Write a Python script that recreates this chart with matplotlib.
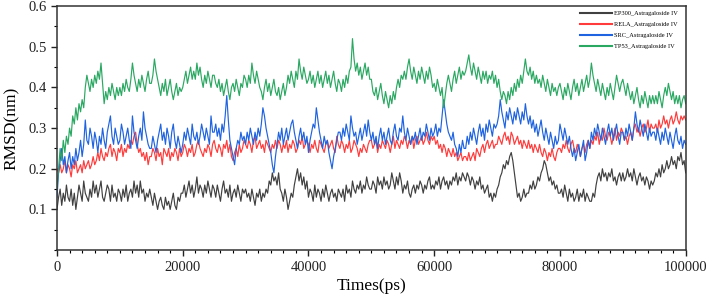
import numpy as np
import matplotlib
matplotlib.use("Agg")
import matplotlib.pyplot as plt
from matplotlib.ticker import MultipleLocator

plt.rcParams['font.family'] = ['Liberation Serif', 'DejaVu Serif']

time_ps = list(range(0, 100001, 250))

ep300 = [
    0.10, 0.13, 0.15, 0.11, 0.14, 0.12, 0.16, 0.13, 0.12, 0.15, 0.11, 0.14, 0.10, 0.13, 0.16, 0.14, 0.12, 0.17, 0.14, 0.13,
    0.12, 0.15, 0.13, 0.17, 0.14, 0.16, 0.13, 0.15, 0.17, 0.13, 0.12, 0.14, 0.16, 0.15, 0.12, 0.16, 0.13, 0.14, 0.12, 0.15,
    0.14, 0.12, 0.15, 0.13, 0.16, 0.12, 0.14, 0.15, 0.13, 0.17, 0.14, 0.16, 0.13, 0.17, 0.14, 0.15, 0.12, 0.14, 0.13, 0.15,
    0.13, 0.11, 0.14, 0.12, 0.10, 0.12, 0.13, 0.11, 0.10, 0.13, 0.11, 0.12, 0.10, 0.12, 0.14, 0.11, 0.10, 0.13, 0.12, 0.14,
    0.14, 0.16, 0.13, 0.15, 0.17, 0.14, 0.16, 0.13, 0.15, 0.18, 0.14, 0.16, 0.15, 0.13, 0.16, 0.14, 0.17, 0.15, 0.13, 0.16,
    0.15, 0.13, 0.16, 0.14, 0.12, 0.15, 0.17, 0.14, 0.15, 0.13, 0.16, 0.12, 0.14, 0.15, 0.13, 0.16, 0.14, 0.12, 0.15, 0.14,
    0.15, 0.13, 0.14, 0.12, 0.15, 0.13, 0.11, 0.14, 0.13, 0.15, 0.12, 0.14, 0.13, 0.15, 0.14, 0.17, 0.16, 0.19, 0.17, 0.18,
    0.16, 0.19, 0.15, 0.14, 0.12, 0.15, 0.13, 0.10, 0.12, 0.14, 0.13, 0.16, 0.18, 0.20, 0.17, 0.19, 0.16, 0.18, 0.15, 0.17,
    0.13, 0.15, 0.14, 0.12, 0.16, 0.13, 0.15, 0.14, 0.12, 0.15, 0.13, 0.16, 0.14, 0.12, 0.14, 0.15, 0.13, 0.14, 0.12, 0.15,
    0.14, 0.13, 0.15, 0.12, 0.16, 0.14, 0.15, 0.13, 0.17, 0.15, 0.14, 0.16, 0.15, 0.17, 0.14, 0.16, 0.15, 0.18, 0.16, 0.15,
    0.15, 0.17, 0.16, 0.14, 0.18, 0.16, 0.17, 0.15, 0.18, 0.16, 0.17, 0.15, 0.16, 0.19, 0.17, 0.15, 0.18, 0.16, 0.19, 0.17,
    0.14, 0.16, 0.15, 0.17, 0.14, 0.13, 0.15, 0.16, 0.14, 0.16, 0.15, 0.17, 0.16, 0.14, 0.16, 0.15, 0.17, 0.18, 0.15, 0.16,
    0.15, 0.17, 0.16, 0.18, 0.15, 0.17, 0.18, 0.16, 0.17, 0.15, 0.17, 0.16, 0.18, 0.17, 0.19, 0.16, 0.18, 0.17, 0.19, 0.18,
    0.17, 0.19, 0.18, 0.16, 0.18, 0.17, 0.15, 0.17, 0.16, 0.18, 0.15, 0.16, 0.14, 0.15, 0.16, 0.13, 0.14, 0.12, 0.14, 0.13,
    0.15, 0.16, 0.18, 0.19, 0.21, 0.20, 0.22, 0.21, 0.23, 0.24, 0.22, 0.19, 0.16, 0.13, 0.14, 0.12, 0.13, 0.15, 0.13, 0.14,
    0.14, 0.16, 0.15, 0.17, 0.15, 0.16, 0.18, 0.17, 0.19, 0.20, 0.22, 0.21, 0.19, 0.17, 0.18, 0.16, 0.17, 0.15, 0.16, 0.14,
    0.14, 0.15, 0.13, 0.16, 0.14, 0.12, 0.15, 0.13, 0.14, 0.12, 0.13, 0.15, 0.12, 0.14, 0.13, 0.15, 0.12, 0.14, 0.13, 0.12,
    0.12, 0.14, 0.13, 0.16, 0.18, 0.19, 0.17, 0.20, 0.18, 0.19, 0.17, 0.19, 0.18, 0.20, 0.17, 0.18, 0.16, 0.18, 0.19, 0.17,
    0.19, 0.17, 0.18, 0.20, 0.18, 0.19, 0.17, 0.20, 0.18, 0.16, 0.18, 0.19, 0.17, 0.18, 0.16, 0.18, 0.17, 0.15, 0.17, 0.16,
    0.17, 0.19, 0.18, 0.20, 0.18, 0.21, 0.19, 0.20, 0.22, 0.20, 0.21, 0.23, 0.21, 0.22, 0.20, 0.23, 0.22, 0.24, 0.21, 0.22,
    0.19,
]

rela = [
    0.20, 0.19, 0.21, 0.19, 0.20, 0.22, 0.19, 0.21, 0.20, 0.18, 0.21, 0.20, 0.22, 0.19, 0.20, 0.21, 0.19, 0.22, 0.20, 0.21,
    0.22, 0.20, 0.21, 0.23, 0.21, 0.22, 0.24, 0.22, 0.25, 0.23, 0.22, 0.24, 0.23, 0.25, 0.26, 0.23, 0.25, 0.24, 0.22, 0.25,
    0.24, 0.26, 0.23, 0.25, 0.24, 0.26, 0.25, 0.27, 0.26, 0.28, 0.29, 0.26, 0.24, 0.25, 0.23, 0.24, 0.22, 0.24, 0.21, 0.23,
    0.23, 0.25, 0.24, 0.22, 0.25, 0.23, 0.24, 0.21, 0.25, 0.24, 0.23, 0.25, 0.22, 0.24, 0.23, 0.25, 0.24, 0.22, 0.25, 0.23,
    0.24, 0.26, 0.25, 0.23, 0.25, 0.24, 0.26, 0.23, 0.24, 0.26, 0.27, 0.25, 0.24, 0.23, 0.25, 0.24, 0.26, 0.25, 0.23, 0.26,
    0.27, 0.25, 0.24, 0.26, 0.25, 0.23, 0.26, 0.25, 0.27, 0.24, 0.26, 0.23, 0.22, 0.24, 0.25, 0.23, 0.26, 0.24, 0.25, 0.27,
    0.26, 0.25, 0.27, 0.26, 0.24, 0.27, 0.28, 0.25, 0.26, 0.27, 0.25, 0.26, 0.24, 0.27, 0.26, 0.25, 0.24, 0.26, 0.25, 0.27,
    0.25, 0.27, 0.26, 0.24, 0.26, 0.25, 0.27, 0.24, 0.26, 0.25, 0.27, 0.26, 0.24, 0.25, 0.27, 0.26, 0.28, 0.25, 0.26, 0.27,
    0.26, 0.24, 0.26, 0.25, 0.27, 0.25, 0.24, 0.27, 0.26, 0.25, 0.24, 0.26, 0.27, 0.25, 0.26, 0.27, 0.25, 0.24, 0.28, 0.26,
    0.25, 0.27, 0.26, 0.24, 0.26, 0.25, 0.27, 0.24, 0.25, 0.27, 0.26, 0.25, 0.23, 0.25, 0.24, 0.26, 0.25, 0.24, 0.26, 0.27,
    0.27, 0.25, 0.26, 0.27, 0.24, 0.26, 0.25, 0.27, 0.26, 0.25, 0.27, 0.26, 0.24, 0.26, 0.28, 0.25, 0.27, 0.26, 0.25, 0.27,
    0.26, 0.28, 0.27, 0.25, 0.27, 0.26, 0.28, 0.25, 0.27, 0.28, 0.26, 0.27, 0.28, 0.26, 0.27, 0.29, 0.27, 0.26, 0.28, 0.27,
    0.28, 0.26, 0.27, 0.25, 0.26, 0.24, 0.26, 0.25, 0.23, 0.25, 0.24, 0.23, 0.25, 0.23, 0.24, 0.22, 0.23, 0.24, 0.22, 0.23,
    0.23, 0.22, 0.24, 0.22, 0.23, 0.24, 0.22, 0.25, 0.24, 0.23, 0.25, 0.26, 0.24, 0.26, 0.27, 0.25, 0.26, 0.27, 0.25, 0.26,
    0.26, 0.28, 0.27, 0.26, 0.28, 0.29, 0.27, 0.28, 0.26, 0.29, 0.28, 0.26, 0.27, 0.28, 0.26, 0.27, 0.25, 0.27, 0.26, 0.25,
    0.27, 0.25, 0.26, 0.24, 0.26, 0.25, 0.24, 0.26, 0.24, 0.23, 0.25, 0.24, 0.22, 0.24, 0.23, 0.25, 0.23, 0.22, 0.24, 0.25,
    0.25, 0.24, 0.26, 0.25, 0.27, 0.25, 0.24, 0.26, 0.27, 0.25, 0.24, 0.26, 0.25, 0.23, 0.25, 0.26, 0.24, 0.26, 0.27, 0.25,
    0.27, 0.26, 0.28, 0.27, 0.29, 0.26, 0.28, 0.27, 0.30, 0.28, 0.27, 0.29, 0.28, 0.26, 0.28, 0.30, 0.27, 0.29, 0.28, 0.30,
    0.29, 0.27, 0.28, 0.26, 0.28, 0.29, 0.27, 0.30, 0.31, 0.29, 0.30, 0.28, 0.30, 0.31, 0.29, 0.30, 0.32, 0.29, 0.31, 0.30,
    0.30, 0.31, 0.29, 0.32, 0.30, 0.31, 0.33, 0.31, 0.32, 0.30, 0.32, 0.33, 0.31, 0.32, 0.34, 0.32, 0.31, 0.33, 0.32, 0.33,
    0.32,
]

src = [
    0.13, 0.19, 0.22, 0.25, 0.21, 0.23, 0.19, 0.22, 0.24, 0.20, 0.23, 0.21, 0.25, 0.22, 0.24, 0.27, 0.23, 0.26, 0.32, 0.27,
    0.26, 0.30, 0.28, 0.25, 0.29, 0.27, 0.24, 0.28, 0.26, 0.30, 0.27, 0.25, 0.29, 0.31, 0.33, 0.28, 0.26, 0.30, 0.28, 0.26,
    0.27, 0.31, 0.29, 0.26, 0.28, 0.30, 0.27, 0.25, 0.33, 0.29, 0.27, 0.25, 0.28, 0.30, 0.27, 0.34, 0.30, 0.28, 0.26, 0.25,
    0.25, 0.28, 0.26, 0.24, 0.27, 0.29, 0.31, 0.27, 0.29, 0.26, 0.30, 0.28, 0.25, 0.29, 0.31, 0.27, 0.25, 0.28, 0.26, 0.24,
    0.26, 0.29, 0.27, 0.30, 0.28, 0.26, 0.31, 0.28, 0.27, 0.29, 0.26, 0.28, 0.31, 0.29, 0.27, 0.30, 0.28, 0.26, 0.33, 0.29,
    0.29, 0.31, 0.28, 0.30, 0.27, 0.31, 0.29, 0.33, 0.38, 0.32, 0.27, 0.25, 0.23, 0.21, 0.25, 0.27, 0.26, 0.29, 0.27, 0.28,
    0.26, 0.29, 0.27, 0.30, 0.28, 0.26, 0.29, 0.27, 0.30, 0.28, 0.31, 0.35, 0.33, 0.30, 0.28, 0.26, 0.24, 0.21, 0.19, 0.23,
    0.26, 0.29, 0.27, 0.30, 0.26, 0.28, 0.30, 0.27, 0.29, 0.31, 0.32, 0.29, 0.27, 0.25, 0.28, 0.30, 0.27, 0.29, 0.26, 0.28,
    0.24, 0.27, 0.29, 0.31, 0.30, 0.35, 0.32, 0.29, 0.27, 0.25, 0.28, 0.26, 0.27, 0.24, 0.22, 0.20, 0.23, 0.25, 0.27, 0.29,
    0.29, 0.27, 0.30, 0.28, 0.31, 0.29, 0.27, 0.33, 0.30, 0.28, 0.29, 0.26, 0.28, 0.30, 0.27, 0.29, 0.31, 0.28, 0.32, 0.29,
    0.27, 0.29, 0.26, 0.28, 0.25, 0.28, 0.30, 0.27, 0.29, 0.26, 0.28, 0.30, 0.27, 0.26, 0.29, 0.31, 0.28, 0.27, 0.30, 0.29,
    0.33, 0.29, 0.27, 0.30, 0.28, 0.26, 0.28, 0.27, 0.29, 0.26, 0.28, 0.30, 0.27, 0.29, 0.28, 0.31, 0.29, 0.27, 0.30, 0.28,
    0.29, 0.31, 0.28, 0.30, 0.29, 0.33, 0.37, 0.34, 0.31, 0.29, 0.28, 0.27, 0.29, 0.26, 0.25, 0.23, 0.26, 0.24, 0.27, 0.25,
    0.25, 0.28, 0.26, 0.29, 0.27, 0.30, 0.28, 0.26, 0.29, 0.31, 0.28, 0.30, 0.27, 0.31, 0.29, 0.32, 0.30, 0.28, 0.31, 0.30,
    0.31, 0.33, 0.37, 0.34, 0.32, 0.30, 0.34, 0.32, 0.35, 0.33, 0.31, 0.34, 0.32, 0.35, 0.33, 0.31, 0.34, 0.32, 0.36, 0.33,
    0.31, 0.33, 0.30, 0.32, 0.29, 0.31, 0.28, 0.30, 0.32, 0.29, 0.27, 0.30, 0.28, 0.26, 0.29, 0.27, 0.25, 0.28, 0.26, 0.27,
    0.31, 0.29, 0.27, 0.30, 0.28, 0.26, 0.28, 0.25, 0.23, 0.25, 0.22, 0.24, 0.26, 0.23, 0.25, 0.27, 0.22, 0.24, 0.27, 0.25,
    0.29, 0.27, 0.30, 0.28, 0.31, 0.29, 0.27, 0.30, 0.28, 0.26, 0.29, 0.31, 0.28, 0.30, 0.27, 0.29, 0.31, 0.28, 0.26, 0.29,
    0.29, 0.27, 0.30, 0.28, 0.31, 0.29, 0.27, 0.30, 0.34, 0.31, 0.29, 0.32, 0.30, 0.28, 0.31, 0.29, 0.27, 0.30, 0.28, 0.29,
    0.29, 0.27, 0.30, 0.28, 0.26, 0.29, 0.27, 0.30, 0.28, 0.26, 0.29, 0.27, 0.25, 0.28, 0.30, 0.27, 0.26, 0.28, 0.25, 0.27,
    0.26,
]

tp53 = [
    0.15, 0.20, 0.25, 0.22, 0.27, 0.24, 0.28, 0.26, 0.30, 0.28, 0.33, 0.31, 0.35, 0.32, 0.36, 0.34, 0.37, 0.35, 0.40, 0.43,
    0.41, 0.39, 0.42, 0.40, 0.43, 0.41, 0.44, 0.42, 0.46, 0.41, 0.36, 0.39, 0.37, 0.40, 0.38, 0.41, 0.39, 0.37, 0.40, 0.38,
    0.40, 0.38, 0.41, 0.39, 0.42, 0.40, 0.39, 0.42, 0.46, 0.43, 0.41, 0.39, 0.42, 0.40, 0.43, 0.41, 0.39, 0.42, 0.44, 0.41,
    0.41, 0.43, 0.47, 0.44, 0.42, 0.40, 0.38, 0.41, 0.39, 0.42, 0.38, 0.40, 0.42, 0.39, 0.37, 0.39, 0.41, 0.38, 0.40, 0.39,
    0.40, 0.42, 0.44, 0.41, 0.43, 0.45, 0.42, 0.44, 0.42, 0.46, 0.43, 0.45, 0.42, 0.40, 0.43, 0.41, 0.44, 0.42, 0.40, 0.43,
    0.43, 0.41, 0.40, 0.42, 0.39, 0.41, 0.38, 0.40, 0.42, 0.39, 0.37, 0.40, 0.41, 0.39, 0.42, 0.40, 0.38, 0.41, 0.40, 0.43,
    0.42, 0.40, 0.43, 0.41, 0.46, 0.43, 0.41, 0.44, 0.42, 0.40, 0.39, 0.37, 0.40, 0.42, 0.39, 0.41, 0.38, 0.40, 0.42, 0.39,
    0.38, 0.40, 0.37, 0.39, 0.41, 0.38, 0.40, 0.43, 0.41, 0.44, 0.42, 0.40, 0.44, 0.42, 0.47, 0.44, 0.42, 0.45, 0.43, 0.41,
    0.42, 0.44, 0.41, 0.43, 0.40, 0.42, 0.44, 0.41, 0.43, 0.40, 0.42, 0.44, 0.41, 0.43, 0.40, 0.42, 0.44, 0.41, 0.39, 0.42,
    0.41, 0.39, 0.42, 0.40, 0.43, 0.41, 0.44, 0.45, 0.52, 0.47, 0.44, 0.46, 0.43, 0.45, 0.42, 0.44, 0.46, 0.43, 0.45, 0.42,
    0.42, 0.39, 0.38, 0.40, 0.37, 0.39, 0.41, 0.38, 0.36, 0.39, 0.37, 0.35, 0.38, 0.36, 0.39, 0.37, 0.40, 0.42, 0.40, 0.43,
    0.42, 0.44, 0.42, 0.45, 0.47, 0.44, 0.42, 0.45, 0.43, 0.41, 0.44, 0.42, 0.45, 0.43, 0.41, 0.44, 0.42, 0.45, 0.43, 0.40,
    0.41, 0.39, 0.42, 0.40, 0.38, 0.40, 0.35, 0.38, 0.41, 0.43, 0.41, 0.39, 0.42, 0.44, 0.41, 0.43, 0.45, 0.42, 0.44, 0.43,
    0.44, 0.46, 0.48, 0.45, 0.43, 0.46, 0.44, 0.42, 0.45, 0.43, 0.41, 0.44, 0.42, 0.44, 0.41, 0.43, 0.42, 0.44, 0.41, 0.43,
    0.40, 0.42, 0.39, 0.37, 0.39, 0.38, 0.36, 0.39, 0.37, 0.40, 0.38, 0.41, 0.39, 0.42, 0.40, 0.43, 0.41, 0.44, 0.47, 0.44,
    0.43, 0.45, 0.42, 0.44, 0.41, 0.43, 0.41, 0.42, 0.40, 0.43, 0.41, 0.39, 0.42, 0.40, 0.38, 0.41, 0.39, 0.40, 0.38, 0.40,
    0.41, 0.39, 0.37, 0.40, 0.38, 0.41, 0.39, 0.37, 0.40, 0.42, 0.39, 0.41, 0.38, 0.40, 0.42, 0.39, 0.41, 0.43, 0.40, 0.42,
    0.46, 0.43, 0.41, 0.39, 0.42, 0.40, 0.38, 0.41, 0.39, 0.37, 0.40, 0.38, 0.41, 0.39, 0.37, 0.40, 0.43, 0.41, 0.39, 0.41,
    0.42, 0.40, 0.38, 0.41, 0.39, 0.37, 0.39, 0.36, 0.38, 0.40, 0.37, 0.35, 0.38, 0.36, 0.39, 0.37, 0.35, 0.38, 0.36, 0.38,
    0.36, 0.38, 0.36, 0.39, 0.37, 0.35, 0.38, 0.40, 0.38, 0.41, 0.39, 0.37, 0.39, 0.36, 0.38, 0.36, 0.38, 0.35, 0.37, 0.38,
    0.36,
]

labels = ["EP300_Astragaloside IV", "RELA_Astragaloside IV",
          "SRC_Astragaloside IV", "TP53_Astragaloside IV"]
colors = ["#404040", "#ff3b3b", "#1f63e0", "#2aa862"]
series = [ep300, rela, src, tp53]

fig = plt.figure(figsize=(7.08, 3.05), dpi=100)
ax = fig.add_axes([0.0805, 0.180, 0.888, 0.800])

for y, c, lab in zip(series, colors, labels):
    ax.plot(time_ps, y, color=c, lw=0.85, label=lab)

ax.set_xlim(0, 100000)
ax.set_ylim(0, 0.6)
ax.set_xticks([0, 20000, 40000, 60000, 80000, 100000])
ax.xaxis.set_minor_locator(MultipleLocator(2000))
ax.set_yticks([0.1, 0.2, 0.3, 0.4, 0.5, 0.6])
ax.yaxis.set_minor_locator(MultipleLocator(0.05))
ax.tick_params(axis='both', which='major', direction='out', length=4, width=1,
               labelsize=10.5, colors='#222222')
ax.tick_params(axis='both', which='minor', direction='out', length=2.5, width=0.8)
for s in ax.spines.values():
    s.set_linewidth(1.1)
    s.set_color('#333333')

ax.set_xlabel("Times(ps)", fontsize=12.5, labelpad=3)
ax.set_ylabel("RMSD(nm)", fontsize=12.5, labelpad=6)

leg = ax.legend(loc='upper right', frameon=False, fontsize=4.6,
                handlelength=5.0, handletextpad=0.3, labelspacing=0.85,
                borderaxespad=0.3, bbox_to_anchor=(0.995, 1.0))
for h in leg.get_lines():
    h.set_linewidth(1.5)

fig.savefig("out.png", dpi=100)
